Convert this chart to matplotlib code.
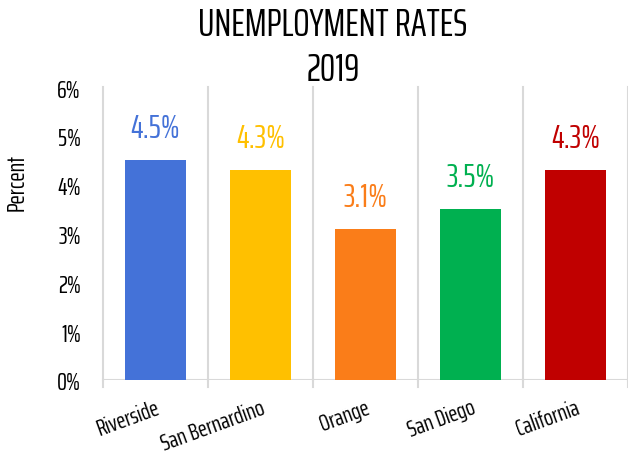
import matplotlib
matplotlib.use("Agg")
import matplotlib.pyplot as plt
from matplotlib.ticker import FuncFormatter

counties = ["Riverside", "San Bernardino", "Orange", "San Diego", "California"]
rates = [4.5, 4.3, 3.1, 3.5, 4.3]
bar_colors = ["#4472D8", "#FFC000", "#FA7D19", "#00B050", "#C00000"]

plt.rcParams['font.family'] = ['Saira ExtraCondensed', 'DejaVu Sans']

fig = plt.figure(figsize=(6.28, 4.56), dpi=100)
ax = fig.add_axes([0.164, 0.1645, 0.836, 0.6425])

x = range(len(counties))
ax.bar(x, rates, width=0.59, color=bar_colors, zorder=3)
for i, (r, c) in enumerate(zip(rates, bar_colors)):
    ax.text(i, r + 0.35, f"{r:.1f}%", ha='center', va='bottom', color=c, fontsize=24)

ax.set_xlim(-0.5, len(counties) - 0.5)
ax.set_ylim(0, 6)
ax.set_yticks(range(0, 7))
ax.yaxis.set_major_formatter(FuncFormatter(lambda v, p: f"{int(v)}%"))

# category separators
for b in [i - 0.5 for i in range(len(counties) + 1)]:
    ax.axvline(b, color="#D9D9D9", lw=1.5, zorder=1, clip_on=False)
    ax.plot([b, b], [0, -0.15], color="#D9D9D9", lw=1.5, clip_on=False)
ax.axhline(0, color="#D9D9D9", lw=1.5, zorder=2)

ax.set_xticks(list(x))
ax.set_xticklabels(counties, rotation=20, ha='right', va='top', fontsize=17, rotation_mode='anchor')
ax.tick_params(axis='both', length=0)
ax.tick_params(axis='x', pad=12)
ax.tick_params(axis='y', labelsize=18, pad=16)
for s in ax.spines.values():
    s.set_visible(False)

fig.text(0.027, 0.60, "Percent", rotation=90, ha='center', va='center', fontsize=18)
fig.text(0.53, 0.985, "UNEMPLOYMENT RATES\n2019", ha='center', va='top', fontsize=28, linespacing=1.3)

fig.savefig("out.png")
